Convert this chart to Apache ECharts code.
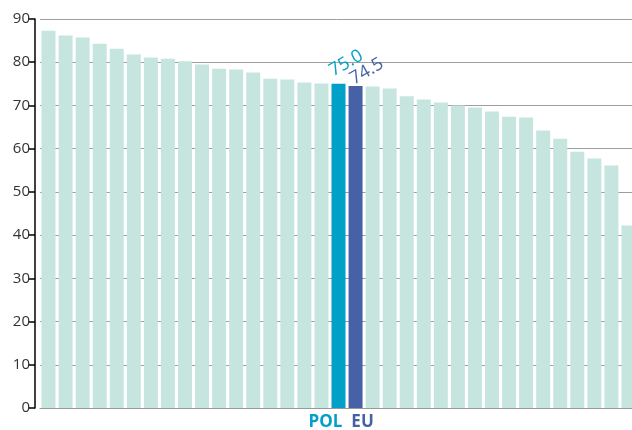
<!DOCTYPE html>
<html><head><meta charset="utf-8">
<script src="https://cdn.jsdelivr.net/npm/echarts@6/dist/echarts.min.js"></script>
<style>html,body{margin:0;padding:0;background:#fff}#c{width:632px;height:430px}</style>
</head><body><div id="c"></div>
<script>
const categories = ['c1','c2','c3','c4','c5','c6','c7','c8','c9','c10','c11','c12','c13','c14','c15','c16','c17','POL','EU','c20','c21','c22','c23','c24','c25','c26','c27','c28','c29','c30','c31','c32','c33','c34','c35'];
const values = [87.3,86.2,85.7,84.3,83.1,81.8,81.1,80.8,80.2,79.5,78.5,78.3,77.6,76.2,76.0,75.3,75.1,75.0,74.5,74.4,73.9,72.1,71.4,70.7,70.0,69.5,68.6,67.4,67.2,64.2,62.3,59.3,57.7,56.1,42.2];
const yTicks = [0,10,20,30,40,50,60,70,80,90];

const baseColor = '#c6e5df';
const highlight = {POL: '#00a0c8', EU: '#4661a6'};
const labelOffset = {POL: [17, -14], EU: [17, -7]};

const chart = echarts.init(document.getElementById('c'), null, {renderer: 'canvas'});
chart.setOption({
  animation: false,
  grid: {left: 40, top: 19, bottom: 22, width: 597, outerBoundsMode: 'none', containLabel: false},
  xAxis: {
    type: 'category', data: categories,
    axisLine: {lineStyle: {color: '#999', width: 1}},
    axisTick: {show: false},
    axisLabel: {
      interval: 0, margin: 6,
      formatter: v => v === 'POL' ? '{p|POL}' : (v === 'EU' ? '{e|EU}' : ''),
      rich: {
        p: {color: highlight.POL, fontWeight: 'bold', fontSize: 17, fontFamily: 'Open Sans', padding: [0, 26, 0, 0]},
        e: {color: highlight.EU, fontWeight: 'bold', fontSize: 17, fontFamily: 'Open Sans', padding: [0, 0, 0, 14]}
      }
    }
  },
  yAxis: {
    type: 'value', min: yTicks[0], max: yTicks[yTicks.length-1], interval: 10, offset: 5,
    axisLine: {show: true, lineStyle: {color: '#000', width: 1.5}},
    axisTick: {show: true, length: 7, lineStyle: {color: '#000', width: 1.5}},
    axisLabel: {color: '#333', fontSize: 15, fontFamily: 'Open Sans', margin: 5},
    splitLine: {lineStyle: {color: '#9e9e9e', width: 1}}
  },
  series: [{
    type: 'bar', barWidth: 14,
    data: values.map((v, i) => {
      const c = categories[i];
      const d = {value: v, itemStyle: {color: highlight[c] || baseColor}};
      if (highlight[c]) {
        d.label = {
          show: true, position: 'top', rotate: 30, align: 'center', verticalAlign: 'middle',
          distance: 0, offset: labelOffset[c],
          formatter: p => p.value.toFixed(1),
          color: highlight[c], fontSize: 18, fontFamily: 'Open Sans'
        };
      }
      return d;
    })
  }]
});
</script></body></html>
